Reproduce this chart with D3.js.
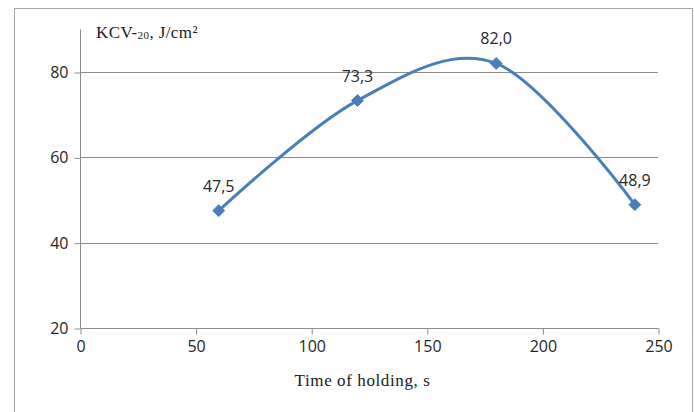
<!DOCTYPE html>
<html><head><meta charset="utf-8">
<script src="https://cdn.jsdelivr.net/npm/d3@7"></script>
<style>body{margin:0;background:#fff}svg{display:block}</style>
</head><body>
<svg id="c" width="694" height="412"></svg>
<script>
const xValues = [60, 120, 180, 240];
const yValues = [47.5, 73.3, 82.0, 48.9];
const pointLabels = ["47,5", "73,3", "82,0", "48,9"];
const xTicks = [0, 50, 100, 150, 200, 250];
const yTicks = [20, 40, 60, 80];
const yTitleParts = ["KCV-", "20", ", J/cm²"];
const xTitle = "Time of holding, s";

const svg = d3.select("#c");
const sans = "'Open Sans', 'Liberation Sans', sans-serif";
const serif = "'Liberation Serif', 'DejaVu Serif', serif";

svg.append("rect").attr("x", 14.5).attr("y", 8.5).attr("width", 678).attr("height", 420)
  .attr("fill", "none").attr("stroke", "#a6a6a6").attr("stroke-width", 1);

const x = d3.scaleLinear().domain([0, 250]).range([80, 658]);
const y = d3.scaleLinear().domain([20, 90]).range([328, 29.3]);

// gridlines
svg.append("g").selectAll("line").data(yTicks.slice(1)).join("line")
  .attr("x1", x(0)).attr("x2", x(250))
  .attr("y1", d => Math.round(y(d)) + 0.5).attr("y2", d => Math.round(y(d)) + 0.5)
  .attr("stroke", "#8c8c8c").attr("stroke-width", 1);

// y axis
const ya = svg.append("g").attr("transform", `translate(${x(0) + 0.5},0.5)`)
  .call(d3.axisLeft(y).tickValues(yTicks).tickSize(6).tickPadding(6).tickFormat(d3.format("d")));
ya.select(".domain").attr("stroke", "#8c8c8c").attr("d", `M0,${Math.round(y(90))}V${Math.round(y(20))}`);
ya.selectAll(".tick line").attr("stroke", "#8c8c8c");
ya.selectAll(".tick text").attr("font-family", sans).attr("font-size", 16).attr("fill", "#262626");

// x axis
const xa = svg.append("g").attr("transform", `translate(0.5,${Math.round(y(20)) + 0.5})`)
  .call(d3.axisBottom(x).tickValues(xTicks).tickSize(6).tickPadding(6).tickFormat(d3.format("d")));
xa.select(".domain").attr("stroke", "#8c8c8c").attr("d", `M${x(0)},0H${x(250)}`);
xa.selectAll(".tick line").attr("stroke", "#8c8c8c");
xa.selectAll(".tick text").attr("font-family", sans).attr("font-size", 16).attr("fill", "#262626");

// titles
const yt = svg.append("text").attr("x", 96).attr("y", 38).attr("font-family", serif).attr("font-size", 17)
  .attr("letter-spacing", 0.4).attr("fill", "#1a1a1a");
yt.append("tspan").text(yTitleParts[0]);
yt.append("tspan").attr("font-size", 11).attr("dy", 1).text(yTitleParts[1]);
yt.append("tspan").attr("dy", -1).text(yTitleParts[2]);

svg.append("text").attr("x", 362.5).attr("y", 386).attr("text-anchor", "middle").attr("font-family", serif)
  .attr("font-size", 17).attr("letter-spacing", 0.6).attr("fill", "#1a1a1a").text(xTitle);

const pts = xValues.map((v, i) => [x(v), y(yValues[i])]);
const color = "#4a7ebb";
svg.append("path").datum(pts)
  .attr("d", d3.line().curve(d3.curveCardinal.tension(0)))
  .attr("fill", "none").attr("stroke", color).attr("stroke-width", 3);

svg.append("g").selectAll("path").data(pts).join("path")
  .attr("d", d3.symbol(d3.symbolDiamond2, 90))
  .attr("transform", d => `translate(${d[0]},${d[1]})`)
  .attr("fill", color).attr("stroke", color).attr("stroke-width", 1);

svg.append("g").selectAll("text").data(pts).join("text")
  .attr("x", d => d[0]).attr("y", d => d[1] - 19)
  .attr("text-anchor", "middle").attr("font-family", sans).attr("font-size", 16).attr("fill", "#262626")
  .text((d, i) => pointLabels[i]);
</script>
</body></html>
